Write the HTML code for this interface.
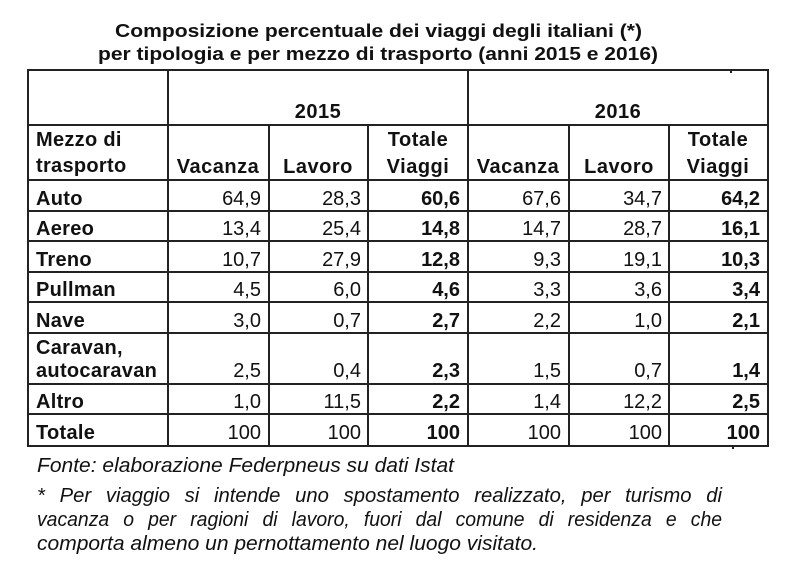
<!DOCTYPE html>
<html><head><meta charset="utf-8"><style>
html,body{margin:0;padding:0;background:#fff;}
svg{display:block;}
text{font-family:"Liberation Sans",Arial,sans-serif;fill:#111;}
.b{font-weight:bold;}
.n{font-size:20px;text-anchor:end;}
.l{font-size:20px;font-weight:bold;letter-spacing:0.3px;}
.h{font-size:20px;letter-spacing:0.5px;text-anchor:middle;}
.f{font-size:20px;font-style:italic;}
.w{word-spacing:9px;}
</style></head><body>
<svg width="800" height="578" viewBox="0 0 800 578" xmlns="http://www.w3.org/2000/svg">
<rect width="800" height="578" fill="#fff"/>
<text class="b" x="115" y="37" font-size="18" textLength="527" lengthAdjust="spacingAndGlyphs">Composizione percentuale dei viaggi degli italiani (*)</text>
<text class="b" x="98" y="60" font-size="18" textLength="560" lengthAdjust="spacingAndGlyphs">per tipologia e per mezzo di trasporto (anni 2015 e 2016)</text>
<g stroke="#222" stroke-width="2" fill="none">
<rect x="28" y="70" width="740" height="376"/>
<line x1="168" y1="70" x2="168" y2="446"/>
<line x1="468" y1="70" x2="468" y2="446"/>
<line x1="269" y1="125" x2="269" y2="446"/>
<line x1="368" y1="125" x2="368" y2="446"/>
<line x1="569" y1="125" x2="569" y2="446"/>
<line x1="669" y1="125" x2="669" y2="446"/>
<line x1="28" y1="125" x2="768" y2="125"/>
<line x1="28" y1="180" x2="768" y2="180"/>
<line x1="28" y1="211" x2="768" y2="211"/>
<line x1="28" y1="241" x2="768" y2="241"/>
<line x1="28" y1="272" x2="768" y2="272"/>
<line x1="28" y1="302" x2="768" y2="302"/>
<line x1="28" y1="333" x2="768" y2="333"/>
<line x1="28" y1="384" x2="768" y2="384"/>
<line x1="28" y1="414" x2="768" y2="414"/>
</g>
<rect x="730" y="70" width="2" height="3" fill="#222"/>
<rect x="732" y="446" width="2" height="3" fill="#222"/>
<text class="h b" x="318" y="118">2015</text>
<text class="h b" x="618" y="118">2016</text>
<text class="l" x="36" y="146">Mezzo di</text>
<text class="l" x="36" y="172">trasporto</text>
<text class="h b" x="218" y="173">Vacanza</text>
<text class="h b" x="318" y="173">Lavoro</text>
<text class="h b" x="418" y="146">Totale</text>
<text class="h b" x="418" y="173">Viaggi</text>
<text class="h b" x="518" y="173">Vacanza</text>
<text class="h b" x="619" y="173">Lavoro</text>
<text class="h b" x="718" y="146">Totale</text>
<text class="h b" x="718" y="173">Viaggi</text>

<text class="l" x="36" y="205">Auto</text>
<text class="l" x="36" y="235">Aereo</text>
<text class="l" x="36" y="266">Treno</text>
<text class="l" x="36" y="296">Pullman</text>
<text class="l" x="36" y="327">Nave</text>
<text class="l" x="36" y="354">Caravan,</text>
<text class="l" x="36" y="377">autocaravan</text>
<text class="l" x="36" y="408">Altro</text>
<text class="l" x="36" y="439">Totale</text>

<g>
<text class="n" x="261" y="205">64,9</text><text class="n" x="361" y="205">28,3</text><text class="n b" x="460" y="205">60,6</text><text class="n" x="561" y="205">67,6</text><text class="n" x="662" y="205">34,7</text><text class="n b" x="760" y="205">64,2</text>
<text class="n" x="261" y="235">13,4</text><text class="n" x="361" y="235">25,4</text><text class="n b" x="460" y="235">14,8</text><text class="n" x="561" y="235">14,7</text><text class="n" x="662" y="235">28,7</text><text class="n b" x="760" y="235">16,1</text>
<text class="n" x="261" y="266">10,7</text><text class="n" x="361" y="266">27,9</text><text class="n b" x="460" y="266">12,8</text><text class="n" x="561" y="266">9,3</text><text class="n" x="662" y="266">19,1</text><text class="n b" x="760" y="266">10,3</text>
<text class="n" x="261" y="296">4,5</text><text class="n" x="361" y="296">6,0</text><text class="n b" x="460" y="296">4,6</text><text class="n" x="561" y="296">3,3</text><text class="n" x="662" y="296">3,6</text><text class="n b" x="760" y="296">3,4</text>
<text class="n" x="261" y="327">3,0</text><text class="n" x="361" y="327">0,7</text><text class="n b" x="460" y="327">2,7</text><text class="n" x="561" y="327">2,2</text><text class="n" x="662" y="327">1,0</text><text class="n b" x="760" y="327">2,1</text>
<text class="n" x="261" y="377">2,5</text><text class="n" x="361" y="377">0,4</text><text class="n b" x="460" y="377">2,3</text><text class="n" x="561" y="377">1,5</text><text class="n" x="662" y="377">0,7</text><text class="n b" x="760" y="377">1,4</text>
<text class="n" x="261" y="408">1,0</text><text class="n" x="361" y="408">11,5</text><text class="n b" x="460" y="408">2,2</text><text class="n" x="561" y="408">1,4</text><text class="n" x="662" y="408">12,2</text><text class="n b" x="760" y="408">2,5</text>
<text class="n" x="261" y="439">100</text><text class="n" x="361" y="439">100</text><text class="n b" x="460" y="439">100</text><text class="n" x="561" y="439">100</text><text class="n" x="662" y="439">100</text><text class="n b" x="760" y="439">100</text>
</g>

<text class="f" x="37" y="472" textLength="417" lengthAdjust="spacingAndGlyphs">Fonte: elaborazione Federpneus su dati Istat</text>
<text class="f w" x="37" y="502" textLength="685" lengthAdjust="spacingAndGlyphs">* Per viaggio si intende uno spostamento realizzato, per turismo di</text>
<text class="f w" x="37" y="526" textLength="685" lengthAdjust="spacingAndGlyphs">vacanza o per ragioni di lavoro, fuori dal comune di residenza e che</text>
<text class="f" x="37" y="550" textLength="501" lengthAdjust="spacingAndGlyphs">comporta almeno un pernottamento nel luogo visitato.</text>
</svg>
</body></html>
